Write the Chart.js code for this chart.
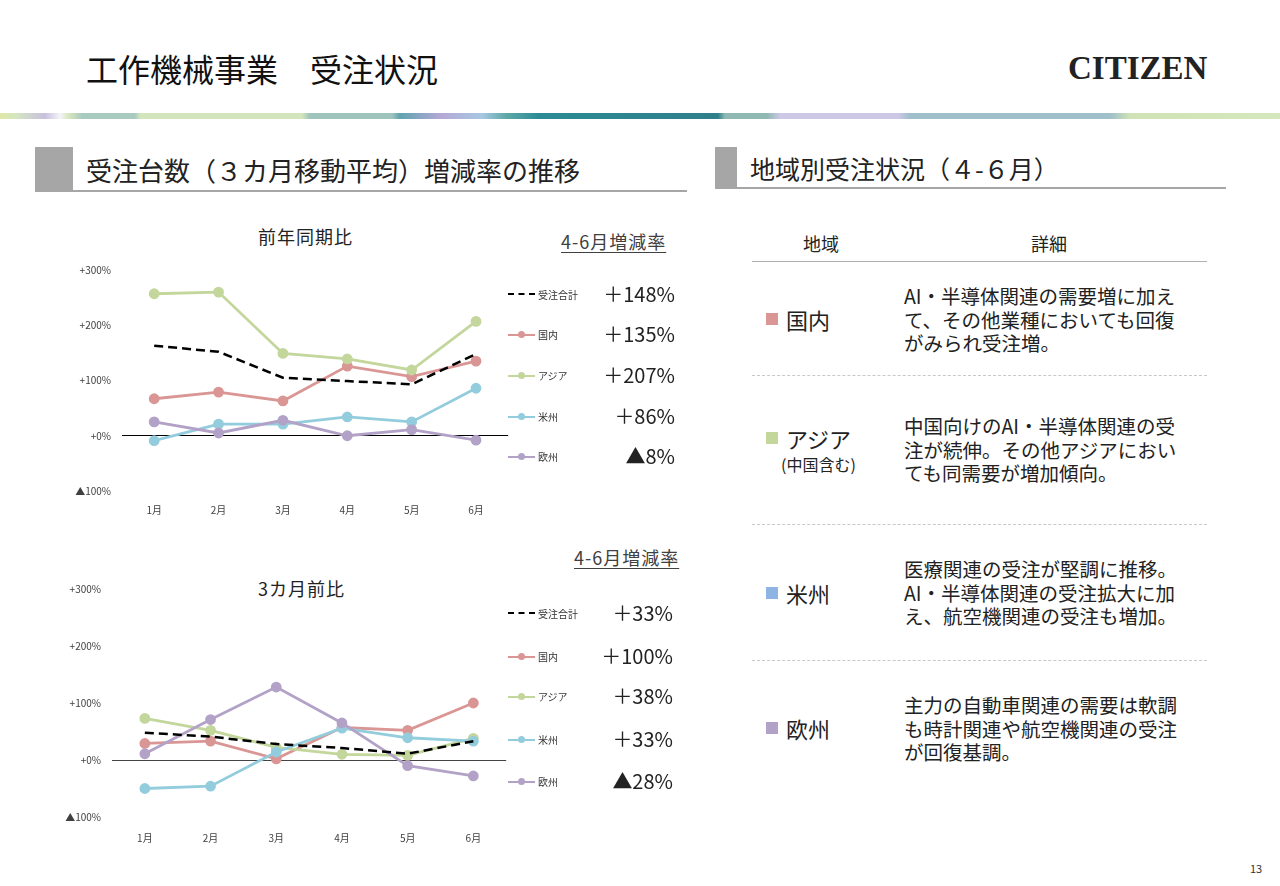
<!DOCTYPE html>
<html lang="ja">
<head>
<meta charset="utf-8">
<script src="https://cdn.jsdelivr.net/npm/chart.js@4"></script>
<style>
  html, body { margin: 0; padding: 0; background: #fff; }
  body { width: 1280px; height: 886px; position: relative; overflow: hidden;
         font-family: "Noto Sans CJK JP", "Noto Sans", sans-serif; color: #222; }
  .abs { position: absolute; white-space: nowrap; }
  .stripe { position: absolute; left: 0; top: 113px; width: 1280px; height: 6px;
    background: linear-gradient(90deg, #dfe8a8 0px, #d5e6bf 16px, #c8c0e0 45px, #f4f4f8 60px, #d6e6be 69px,
      #a9cbbf 82px, #a9cbbf 135px, #d3e5bd 140px, #d3e5bd 302px, #9ec4bc 310px, #9ec4bc 392px,
      #5fa3b0 400px, #b4a9d6 441px, #a7c7e2 482px, #5ea9a8 506px, #2b8b94 539px, #2f7f8a 718px,
      #8fb9b2 725px, #8fb9b2 767px, #cdc8e6 780px, #cdc8e6 898px, #9fbfcb 910px, #9fbfcb 1110px,
      #cfe3b6 1130px, #d5e8bd 1280px); }
  .secblock { position: absolute; background: #a6a6a6; }
  .secline { position: absolute; height: 2px; background: #a6a6a6; }
  .sectitle { position: absolute; white-space: nowrap; line-height: 1; color: #222; }
  .rateHead { position: absolute; font-size: 18px; letter-spacing: 1px; color: #404040;
              text-decoration: underline; text-underline-offset: 3px; line-height: 1; }
  .ctitle { position: absolute; font-size: 18px; letter-spacing: 1px; color: #222; line-height: 1; }
  .legrow { position: absolute; height: 20px; width: 170px; }
  .legline { position: absolute; left: 0; top: 9px; width: 27px; height: 0; }
  .legdot { position: absolute; left: 10px; top: 6px; width: 7px; height: 7px; border-radius: 50%; }
  .legtxt { position: absolute; left: 30px; top: 3px; font-size: 10px; line-height: 14px; color: #333; }
  .legval { position: absolute; right: 0; top: -3px; font-size: 20px; line-height: 24px; color: #222; }
  .th { position: absolute; font-size: 18px; line-height: 1; color: #222; }
  .hline { position: absolute; left: 752px; width: 455px; height: 0; }
  .sq { position: absolute; left: 766px; width: 12px; height: 12px; }
  .rname { position: absolute; left: 786px; font-size: 22px; line-height: 1; color: #222; }
  .detail { position: absolute; left: 904px; font-size: 19.5px; line-height: 23.5px; color: #222; white-space: nowrap; }
</style>
</head>
<body>

<div class="abs" style="left:86px; top:50px; font-size:32px; line-height:36px; color:#111;">工作機械事業　受注状況</div>
<div class="abs" style="left:1068px; top:48px; font-family:'Liberation Serif','DejaVu Serif',serif; font-weight:bold; font-size:33px; line-height:40px; color:#222;">CITIZEN</div>
<div class="stripe"></div>

<!-- left section header -->
<div class="secblock" style="left:35px; top:147px; width:38px; height:44px;"></div>
<div class="sectitle" style="left:86px; top:157px; font-size:26px;">受注台数（３カ月移動平均）増減率の推移</div>
<div class="secline" style="left:35px; top:190px; width:652px;"></div>

<!-- right section header -->
<div class="secblock" style="left:715px; top:147px; width:22px; height:42px;"></div>
<div class="sectitle" style="left:750px; top:156px; font-size:25px;">地域別受注状況（４-６月）</div>
<div class="secline" style="left:715px; top:187px; width:511px;"></div>

<!-- chart titles and rate headers -->
<div class="ctitle" style="left:258px; top:227px;">前年同期比</div>
<div class="rateHead" style="left:561px; top:232px;">4-6月増減率</div>
<div class="ctitle" style="left:258px; top:579px;">3カ月前比</div>
<div class="rateHead" style="left:574px; top:548px;">4-6月増減率</div>

<div style="position:absolute; left:40px; top:253px;"><canvas id="yoyChart" width="475" height="267"></canvas></div>
<div style="position:absolute; left:30px; top:572px;"><canvas id="qoqChart" width="483" height="278"></canvas></div>
<div id="legends"></div>

<!-- right table -->
<div class="th" style="left:803px; top:234px;">地域</div>
<div class="th" style="left:1031px; top:234px;">詳細</div>
<div class="hline" style="top:261px; border-top:1.5px solid #b0b0b0;"></div>
<div class="hline" style="top:375px; border-top:1px dashed #c8c8c8;"></div>
<div class="hline" style="top:524px; border-top:1px dashed #c8c8c8;"></div>
<div class="hline" style="top:660px; border-top:1px dashed #c8c8c8;"></div>

<div class="sq" style="top:313px; background:#d99694;"></div>
<div class="rname" style="top:308px;">国内</div>
<div class="detail" style="top:284px;">AI・半導体関連の需要増に加え<br>て、その他業種においても回復<br>がみられ受注増。</div>

<div class="sq" style="top:432px; background:#c3d69b;"></div>
<div class="rname" style="top:427px;">アジア</div>
<div class="abs" style="left:781px; top:455px; font-size:16px; line-height:18px;">(中国含む)</div>
<div class="detail" style="top:414px;">中国向けのAI・半導体関連の受<br>注が続伸。その他アジアにおい<br>ても同需要が増加傾向。</div>

<div class="sq" style="top:587px; background:#8db4e2;"></div>
<div class="rname" style="top:582px;">米州</div>
<div class="detail" style="top:557px;">医療関連の受注が堅調に推移。<br>AI・半導体関連の受注拡大に加<br>え、航空機関連の受注も増加。</div>

<div class="sq" style="top:722px; background:#b3a2c7;"></div>
<div class="rname" style="top:717px;">欧州</div>
<div class="detail" style="top:693px;">主力の自動車関連の需要は軟調<br>も時計関連や航空機関連の受注<br>が回復基調。</div>

<div class="abs" style="left:1250px; top:861px; font-size:11px; line-height:14px; color:#333;">13</div>

<script>
// data
const months = ['1月', '2月', '3月', '4月', '5月', '6月'];
const seriesNames = ['受注合計', '国内', 'アジア', '米州', '欧州'];
const seriesColors = ['#000000', '#d99694', '#c3d69b', '#93cddd', '#b3a2c7'];

// 前年同期比 (%)
const yoyTotal    = [163, 152, 105, 99, 93, 148];
const yoyDomestic = [67, 79, 63, 126, 107, 135];
const yoyAsia     = [257, 260, 149, 139, 119, 207];
const yoyAmericas = [-9, 21, 21, 34, 25, 86];
const yoyEurope   = [25, 5, 28, 0, 11, -8];
const yoyRates    = ['＋148%', '＋135%', '＋207%', '＋86%', '▲8%'];

// 3カ月前比 (%)
const qoqTotal    = [48, 41, 28, 21, 11, 33];
const qoqDomestic = [29, 33, 2, 57, 52, 100];
const qoqAsia     = [73, 52, 22, 10, 8, 38];
const qoqAmericas = [-50, -46, 14, 56, 39, 33];
const qoqEurope   = [11, 71, 128, 65, -10, -28];
const qoqRates    = ['＋33%', '＋100%', '＋38%', '＋33%', '▲28%'];

const yMin = -100, yMax = 300, yStep = 100;

function tickLabel(v) {
    return v < 0 ? '▲' + (-v) + '%' : '+' + v + '%';
}

function makeDatasets(lists) {
    return lists.map((data, i) => {
        const total = i === 0;
        return {
            label: seriesNames[i],
            data: data,
            borderColor: seriesColors[i],
            backgroundColor: seriesColors[i],
            borderWidth: total ? 2.5 : 2.8,
            borderDash: total ? [9, 5] : [],
            pointRadius: total ? 0 : 4,
            pointHoverRadius: 0,
            tension: 0,
            order: total ? 0 : 5 - i
        };
    });
}

function makeChart(id, lists, opt) {
    return new Chart(document.getElementById(id), {
        type: 'line',
        data: { labels: months, datasets: makeDatasets(lists) },
        options: {
            responsive: false,
            animation: false,
            layout: { padding: 0 },
            plugins: { legend: { display: false }, tooltip: { enabled: false } },
            scales: {
                x: {
                    offset: true,
                    grid: { display: false, drawTicks: false },
                    border: { display: false },
                    ticks: { color: '#404040', font: { family: 'Noto Sans CJK JP', size: 10 }, padding: opt.xPad },
                    afterFit: (s) => { s.height = opt.xHeight; }
                },
                y: {
                    min: yMin, max: yMax,
                    border: { display: false },
                    grid: {
                        drawTicks: false,
                        lineWidth: 1,
                        color: (c) => c.tick && c.tick.value === 0 ? opt.zeroColor : 'rgba(0,0,0,0)'
                    },
                    ticks: {
                        stepSize: yStep,
                        padding: 11,
                        color: '#404040',
                        font: { family: 'Noto Sans CJK JP', size: 10 },
                        callback: (v) => tickLabel(v)
                    },
                    afterFit: (s) => { s.width = 82; }
                }
            }
        }
    });
}

makeChart('yoyChart', [yoyTotal, yoyDomestic, yoyAsia, yoyAmericas, yoyEurope],
    { xHeight: 29, xPad: 13, zeroColor: '#000' });
makeChart('qoqChart', [qoqTotal, qoqDomestic, qoqAsia, qoqAmericas, qoqEurope],
    { xHeight: 33, xPad: 15, zeroColor: '#444' });

// legend + rates next to each chart
function buildLegend(rowsY, rates, right) {
    const holder = document.getElementById('legends');
    seriesNames.forEach((name, i) => {
        const row = document.createElement('div');
        row.className = 'legrow';
        row.style.left = '508px';
        row.style.top = (rowsY[i] - 10) + 'px';
        row.style.width = (right - 508) + 'px';
        const line = document.createElement('div');
        line.className = 'legline';
        if (i === 0) {
            line.style.borderTop = '2.5px dashed #000';
            line.style.top = '8px';
        } else {
            line.style.borderTop = '2.5px solid ' + seriesColors[i];
            const dot = document.createElement('div');
            dot.className = 'legdot';
            dot.style.background = seriesColors[i];
            row.appendChild(dot);
        }
        row.appendChild(line);
        const txt = document.createElement('div');
        txt.className = 'legtxt';
        txt.textContent = name;
        row.appendChild(txt);
        const val = document.createElement('div');
        val.className = 'legval';
        val.textContent = rates[i];
        row.appendChild(val);
        holder.appendChild(row);
    });
}
buildLegend([295, 335, 376, 417, 457], yoyRates, 675);
buildLegend([614, 657, 697, 740, 782], qoqRates, 673);
</script>
</body>
</html>
